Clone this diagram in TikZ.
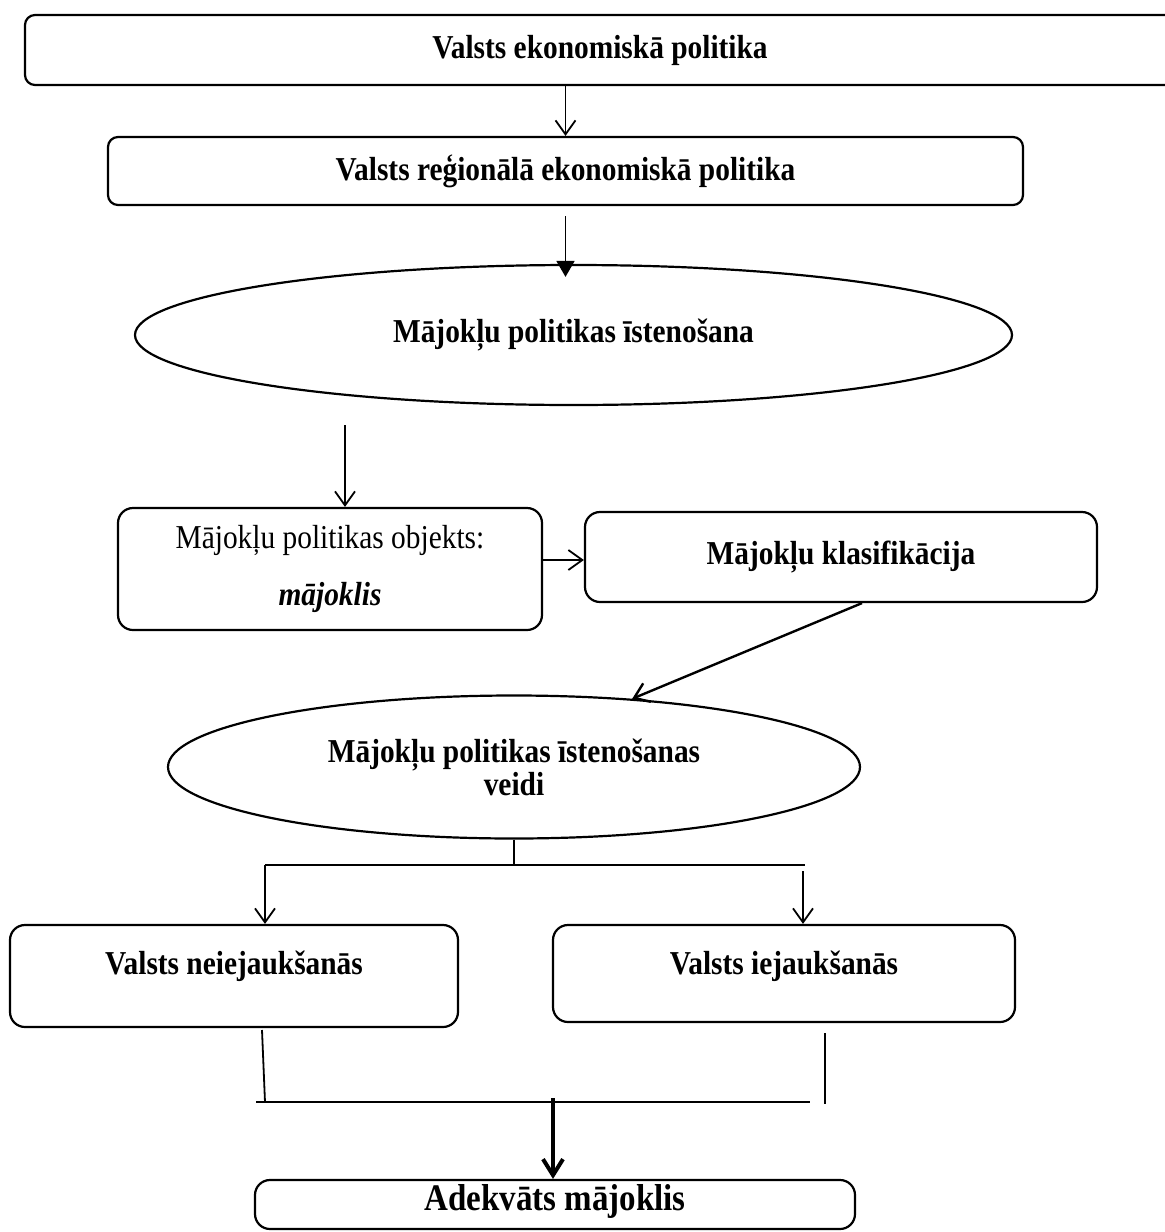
\documentclass[tikz,border=0pt]{standalone}
\usepackage{fontspec}
\setmainfont[FakeStretch=0.88]{Liberation Serif}
\usetikzlibrary{positioning,arrows.meta,shapes.geometric}

\begin{document}
\begin{tikzpicture}[
    x=0.5pt, y=-0.5pt,
    box/.style={draw, line width=1.1pt, rounded corners=7.5pt, inner sep=0pt, align=center,
        font=\bfseries\fontsize{16.7}{17}\selectfont},
    oval/.style={box, ellipse, rounded corners=0pt},
    link/.style={line width=0.9pt},
    openarr/.style={link, -{Straight Barb[length=7pt,width=10pt]}},
    fillarr/.style={link, -{Triangle[length=8pt,width=9pt]}},
    boldarr/.style={line width=2pt, -{Straight Barb[length=8pt,width=10pt,line width=2pt]}}
]
\useasboundingbox (0,0) rectangle (1164,1232);

% Policy levels
\node[box, rounded corners=5pt, minimum width=575pt, minimum height=35pt] (vep) at (600,50) {Valsts ekonomiskā politika};
\node[box, rounded corners=5pt, minimum width=457.5pt, minimum height=34pt] (vrep) at (565.5,171) {Valsts reģionālā ekonomiskā politika};
\node[oval, minimum width=438.5pt, minimum height=70pt] (mpi) at (573.5,335) {Mājokļu politikas īstenošana};

\draw[openarr] (vep.south -| vrep.north) -- (vrep.north);
\draw[fillarr] ([yshift=-5pt]vrep.south) -- ([yshift=-6.5pt]vrep.south |- mpi.north);

% Object and classification
\node[box, font=\fontsize{16.7}{17}\selectfont, minimum width=212pt, minimum height=61pt] (obj) at (330,569) {Mājokļu politikas objekts:\\[11.5pt]\textbf{\textit{mājoklis}}};
\node[box, minimum width=256pt, minimum height=45pt] (klas) at (841,557) {Mājokļu klasifikācija};

\coordinate (m1) at (345,425);
\draw[openarr] (m1) -- (m1 |- obj.north);
\draw[openarr] ([yshift=4.5pt]obj.east) -- ([yshift=4.5pt]obj.east -| klas.west);

% Ways of implementation
\node[oval, minimum width=346pt, minimum height=71.5pt, font=\bfseries\fontsize{16.7}{16.5}\selectfont] (veidi) at (514,767) {Mājokļu politikas īstenošanas\\veidi};
\draw[openarr, line width=1.2pt] ([xshift=10.5pt]klas.south) -- (veidi.30);

\node[box, minimum width=224pt, minimum height=51pt, text height=12.5pt, text depth=14.5pt] (neiej) at (234,976) {Valsts neiejaukšanās};
\node[box, minimum width=231pt, minimum height=48.5pt, text height=12.5pt, text depth=11.5pt] (iej) at (784,973.5) {Valsts iejaukšanās};

\coordinate (jl) at (265,865);
\coordinate (jr) at (805,865);
\coordinate (jr2) at (803,871);
\draw[link] (veidi.south) -- (veidi.south |- jl);
\draw[link] (jl) -- (jr);
\draw[openarr] (jl) -- (jl |- neiej.north);
\draw[openarr] (jr2) -- (jr2 |- iej.north);

% Result
\node[box, minimum width=300pt, minimum height=24.5pt, text height=13.5pt, text depth=7.1pt, font=\bfseries\fontsize{18.75}{19}\selectfont] (adekv) at (555,1204.5) {Adekvāts mājoklis};

\coordinate (bl1) at (262,1030);
\coordinate (bl2) at (265,1102);
\coordinate (br1) at (825,1033);
\coordinate (br2) at (825,1104);
\coordinate (bh1) at (256,1102);
\coordinate (bh2) at (810,1102);
\coordinate (bm) at (553,1098);
\draw[link] (bl1) -- (bl2);
\draw[link] (br1) -- (br2);
\draw[link] (bh1) -- (bh2);
\draw[boldarr] (bm) -- (bm |- adekv.north);

\end{tikzpicture}
\end{document}
